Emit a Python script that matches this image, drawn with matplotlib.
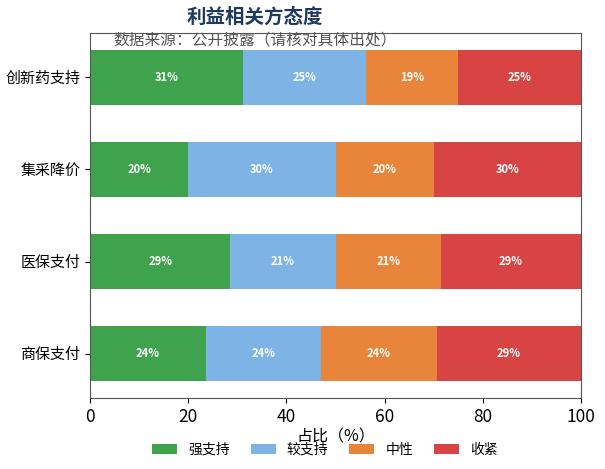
import matplotlib
matplotlib.use("Agg")
import matplotlib.pyplot as plt
import numpy as np

plt.rcParams['font.family'] = ['Noto Sans CJK SC', 'DejaVu Sans']

# categories, top to bottom
categories = ["创新药支持", "集采降价", "医保支付", "商保支付"]
levels = ["强支持", "较支持", "中性", "收紧"]
colors = ["#3FA34D", "#7EB3E6", "#E8853A", "#D84444"]

# share (%) of each attitude per category
strong = [31.25, 20.0, 28.57, 23.53]
weak = [25.0, 30.0, 21.43, 23.53]
neutral = [18.75, 20.0, 21.43, 23.53]
tight = [25.0, 30.0, 28.57, 29.41]
series = [strong, weak, neutral, tight]

fig = plt.figure(figsize=(6.05, 4.69), dpi=100)
ax = fig.add_axes([90 / 605, 1 - 398 / 469, 491 / 605, 365 / 469])

y = np.arange(len(categories))
left = np.zeros(len(categories))
for name, vals, c in zip(levels, series, colors):
    vals = np.array(vals)
    ax.barh(y, vals, left=left, height=0.6, color=c, label=name)
    for yi, l, v in zip(y, left, vals):
        ax.text(l + v / 2, yi, f"{v:.0f}%", ha='center', va='center',
                color='white', fontsize=8, fontweight='bold')
    left += vals

ax.set_yticks(y)
ax.set_yticklabels(categories, fontsize=10.8)
ax.invert_yaxis()
ax.set_xlim(0, 100)
ax.set_xticks([0, 20, 40, 60, 80, 100])
ax.tick_params(axis='x', labelsize=12.5)
ax.set_xlabel("占比（%）", fontsize=11.5, labelpad=2)
for s in ax.spines.values():
    s.set_color('#555555')

fig.text(255 / 605, 1 - 17 / 469, "利益相关方态度", ha='center', va='center',
         fontsize=14, fontweight='bold', color='#1F3A5F')
fig.text(113 / 605, 1 - 40 / 469, "数据来源：公开披露（请核对具体出处）", ha='left',
         va='center', fontsize=11.3, color='#555555')

fig.legend(loc='lower center', bbox_to_anchor=(325 / 605, 0.0), ncol=4, frameon=False,
           fontsize=10, handlelength=1.8, columnspacing=1.5, handletextpad=0.8)

fig.savefig("out.png", dpi=100)
